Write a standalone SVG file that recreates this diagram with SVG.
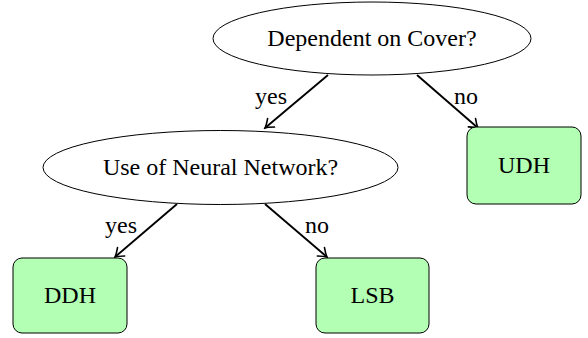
<svg xmlns="http://www.w3.org/2000/svg" width="588" height="338" viewBox="0 0 588 338">
<style>
  .dec { fill: #ffffff; stroke: #000; stroke-width: 1; }
  .leaf { fill: #b3ffb3; stroke: #000; stroke-width: 1; }
  text { font-family: "Liberation Serif", "Times New Roman", serif; font-size: 24px; fill: #000; }
  .c { text-anchor: middle; }
  .edge { stroke: #000; stroke-width: 1.9; fill: none; marker-end: url(#arr); }
</style>
<defs>
  <marker id="arr" viewBox="-9 -7 11 14" markerWidth="11" markerHeight="14" refX="0" refY="0" orient="auto" markerUnits="userSpaceOnUse">
    <path d="M -8 -5.5 Q -2.5 -1 0 0 Q -2.5 1 -8 5.5" fill="none" stroke="#000" stroke-width="1.6" stroke-linecap="round"/>
  </marker>
</defs>
<rect width="588" height="338" fill="#ffffff"/>
<g id="connectors">
  <line class="edge" x1="328" y1="75" x2="265" y2="128"/>
  <line class="edge" x1="417" y1="75" x2="478" y2="128"/>
  <line class="edge" x1="177" y1="204" x2="115" y2="257"/>
  <line class="edge" x1="265" y1="204" x2="327" y2="257"/>
  <text x="271" y="104" class="c">yes</text>
  <text x="466" y="104" class="c">no</text>
  <text x="121" y="233" class="c">yes</text>
  <text x="317" y="233" class="c">no</text>
</g>
<g id="cover">
  <ellipse class="dec" cx="372" cy="38.5" rx="159" ry="36.5"/>
  <text x="372" y="46" class="c">Dependent on Cover?</text>
</g>
<g id="neural">
  <ellipse class="dec" cx="220.5" cy="167.5" rx="177.5" ry="37"/>
  <text x="220.5" y="175" class="c">Use of Neural Network?</text>
</g>
<g id="udh">
  <rect class="leaf" x="467" y="127" width="114" height="77" rx="9"/>
  <text x="524" y="173" class="c">UDH</text>
</g>
<g id="ddh">
  <rect class="leaf" x="13" y="258" width="114" height="75" rx="9"/>
  <text x="70" y="303" class="c">DDH</text>
</g>
<g id="lsb">
  <rect class="leaf" x="316" y="258" width="113" height="75" rx="9"/>
  <text x="372.5" y="303" class="c">LSB</text>
</g>
</svg>
